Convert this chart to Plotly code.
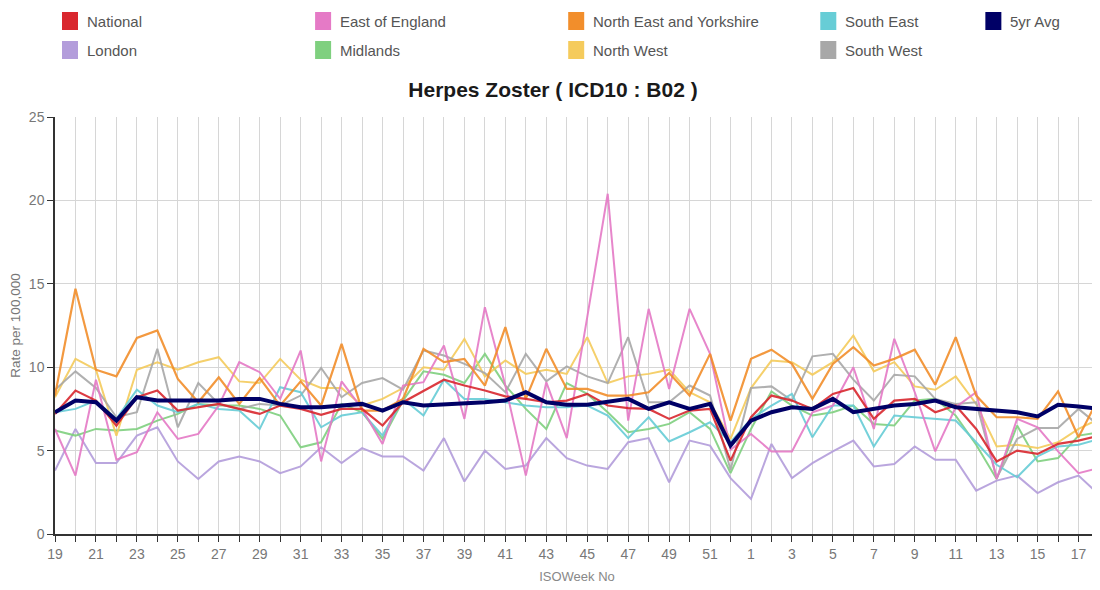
import plotly.graph_objects as go

weeks = list(range(19, 53)) + list(range(1, 19))
week_labels = [str(w) if i % 2 == 0 else "" for i, w in enumerate(weeks)]

national = [7.2, 8.6, 8.0, 6.5, 8.2, 8.6, 7.4, 7.6, 7.8, 7.5, 7.2, 7.7, 7.5, 7.15, 7.5, 7.5, 6.5, 7.9, 8.6, 9.25,
            8.9, 8.6, 8.25, 8.1, 7.9, 8.0, 8.4, 7.7, 7.55, 7.5, 6.9, 7.4, 7.5, 4.4, 7.0, 8.3, 8.0, 7.5, 8.4, 8.75,
            6.9, 8.0, 8.1, 7.3, 7.7, 6.3, 4.35, 5.0, 4.8, 5.4, 5.6, 5.9]
east_of_england = [6.3, 3.5, 9.25, 4.45, 4.9, 7.3, 5.7, 6.0, 7.7, 10.3, 9.7, 8.1, 11.0, 4.35, 9.15, 7.5, 5.4, 8.9, 9.1, 11.3,
                   6.9, 13.6, 8.9, 3.5, 9.1, 5.75, 13.0, 20.4, 6.8, 13.5, 8.7, 13.5, 10.8, 5.05, 6.0, 4.95, 4.95, 7.3, 7.7, 10.0,
                   6.3, 11.7, 8.5, 4.95, 7.6, 8.5, 3.3, 6.9, 6.4, 4.95, 3.65, 3.95]
north_east_yorks = [8.3, 14.7, 9.85, 9.45, 11.75, 12.2, 9.3, 7.9, 9.4, 7.8, 9.35, 7.7, 9.15, 7.7, 11.4, 7.4, 7.4, 8.1, 11.1, 10.3,
                    10.5, 8.9, 12.4, 8.1, 11.1, 8.7, 8.7, 8.3, 8.3, 8.5, 9.65, 8.3, 10.8, 6.8, 10.5, 11.05, 10.2, 8.1, 10.2, 11.2,
                    10.1, 10.5, 11.05, 8.95, 11.8, 8.3, 7.0, 7.0, 6.9, 8.55, 5.8, 8.2]
south_east = [7.3, 7.5, 8.0, 6.9, 8.65, 7.7, 7.3, 7.8, 7.5, 7.4, 6.3, 8.8, 8.5, 6.4, 7.1, 7.3, 5.9, 8.1, 7.1, 9.25,
              8.1, 8.1, 7.9, 7.7, 7.6, 7.6, 7.7, 7.1, 5.75, 7.0, 5.55, 6.1, 6.7, 5.5, 6.9, 7.7, 8.4, 5.8, 7.7, 7.7,
              5.25, 7.1, 7.0, 6.9, 6.8, 5.5, 4.15, 3.4, 4.65, 5.25, 5.35, 5.7]
five_yr_avg = [7.3, 8.0, 7.9, 6.8, 8.2, 8.0, 8.0, 8.0, 8.0, 8.1, 8.1, 7.8, 7.6, 7.6, 7.7, 7.8, 7.4, 7.9, 7.7, 7.75,
               7.8, 7.9, 8.0, 8.5, 7.9, 7.75, 7.75, 7.9, 8.1, 7.5, 7.9, 7.5, 7.8, 5.3, 6.8, 7.3, 7.6, 7.5, 8.1, 7.3,
               7.5, 7.7, 7.8, 8.0, 7.6, 7.5, 7.45, 7.3, 7.05, 7.75, 7.65, 7.5]
london = [3.8, 6.3, 4.25, 4.25, 5.9, 6.4, 4.35, 3.3, 4.35, 4.65, 4.35, 3.65, 4.05, 5.2, 4.25, 5.15, 4.65, 4.65, 3.8, 5.75,
          3.15, 5.0, 3.9, 4.1, 5.75, 4.55, 4.1, 3.9, 5.5, 5.75, 3.1, 5.6, 5.3, 3.35, 2.1, 5.4, 3.35, 4.25, 4.95, 5.6,
          4.05, 4.2, 5.25, 4.45, 4.45, 2.6, 3.2, 3.5, 2.45, 3.1, 3.5, 2.35]
midlands = [6.2, 5.9, 6.3, 6.2, 6.3, 6.8, 7.2, 7.8, 7.7, 7.7, 7.5, 7.1, 5.2, 5.5, 7.8, 7.3, 5.7, 8.0, 9.75, 9.55,
            9.05, 10.8, 8.9, 7.5, 6.3, 9.05, 8.4, 7.3, 6.1, 6.3, 6.6, 7.3, 6.3, 3.65, 6.3, 8.55, 7.7, 7.1, 7.3, 7.7,
            6.6, 6.5, 8.0, 8.1, 7.1, 5.35, 3.3, 6.5, 4.35, 4.55, 5.9, 6.1]
north_west = [8.2, 10.5, 9.85, 5.9, 9.85, 10.3, 9.85, 10.3, 10.6, 9.15, 9.05, 10.5, 9.25, 8.75, 8.75, 7.7, 8.1, 8.75, 10.0, 9.85,
              11.7, 9.45, 10.4, 9.6, 9.85, 9.6, 11.8, 9.05, 9.45, 9.6, 9.85, 8.5, 7.9, 5.7, 8.75, 10.4, 10.3, 9.55, 10.3, 11.9,
              9.75, 10.3, 8.85, 8.65, 9.45, 7.8, 5.25, 5.35, 5.15, 5.5, 6.3, 6.9]
south_west = [8.65, 9.75, 8.75, 7.0, 7.3, 11.1, 6.4, 9.05, 7.8, 7.5, 7.8, 7.7, 8.3, 9.95, 8.2, 9.05, 9.35, 8.65, 11.0, 10.7,
              10.2, 9.65, 8.5, 10.8, 9.15, 10.05, 9.45, 9.05, 11.8, 7.9, 7.9, 8.9, 8.3, 3.85, 8.75, 8.85, 8.0, 10.65, 10.8, 9.25,
              8.0, 9.55, 9.45, 8.1, 7.8, 7.9, 3.35, 5.7, 6.35, 6.35, 7.5, 6.5]

y_ticks = [0, 5, 10, 15, 20, 25]

# (name, values, colour, width) in drawing order; 5yr Avg drawn last (on top)
series = [
    ("London", london, "#b39ddb", 2),
    ("Midlands", midlands, "#7fd07f", 2),
    ("North West", north_west, "#f5cb5c", 2),
    ("South West", south_west, "#a8a8a8", 2),
    ("South East", south_east, "#67cdd6", 2),
    ("East of England", east_of_england, "#e57ac6", 2),
    ("North East and Yorkshire", north_east_yorks, "#f28e2b", 2.2),
    ("National", national, "#d9272e", 2.2),
    ("5yr Avg", five_yr_avg, "#000066", 4),
]

# page offset (browser body margin) compensation
OFF = 8
W, H = 1100 - OFF, 590 - OFF
# target plot area in screen pixels
PL, PR, PT, PB = 55, 1098.6, 117, 534
ML, MT = PL - OFF, PT - OFF
MR = W - (PR - OFF)
MB = H - (PB - OFF)
PW, PH = (PR - PL), (PB - PT)

def px(xs_screen):
    return (xs_screen - PL) / PW

def py(ys_screen):
    return (PB - ys_screen) / PH

fig = go.Figure()
xs = list(range(len(weeks)))
for name, vals, col, wd in series:
    fig.add_trace(go.Scatter(x=xs, y=vals, mode="lines", name=name,
                             line=dict(color=col, width=wd), opacity=0.9 if name != "5yr Avg" else 1,
                             showlegend=False))

# manual legend (2 rows x 5 columns, squares) in screen pixels
legend_items = [
    ("National", "#d9272e", 62, 21), ("London", "#b39ddb", 62, 50),
    ("East of England", "#e57ac6", 315, 21), ("Midlands", "#7fd07f", 315, 50),
    ("North East and Yorkshire", "#f28e2b", 568, 21), ("North West", "#f5cb5c", 568, 50),
    ("South East", "#67cdd6", 820, 21), ("South West", "#a8a8a8", 820, 50),
    ("5yr Avg", "#000066", 985, 21),
]
shapes = []
annotations = []
for name, col, x0, yc in legend_items:
    shapes.append(dict(type="rect", xref="paper", yref="paper",
                       x0=px(x0), x1=px(x0 + 16), y0=py(yc + 9), y1=py(yc - 9),
                       fillcolor=col, line=dict(width=0)))
    annotations.append(dict(text=name, xref="paper", yref="paper", x=px(x0 + 23), y=py(yc),
                            xanchor="left", yanchor="middle", showarrow=False,
                            font=dict(size=15, color="#555555", family="Liberation Sans, Arial")))

fig.update_layout(
    width=W, height=H,
    margin=dict(l=ML, r=MR, t=MT, b=MB, autoexpand=False),
    paper_bgcolor="white", plot_bgcolor="white",
    font=dict(family="Liberation Sans, Arial", color="#666666"),
    title=dict(text="<b>Herpes Zoster ( ICD10 : B02 )</b>", x=(553 - OFF) / W, xref="container", xanchor="center",
               y=1 - (90 - OFF) / H, yref="container", yanchor="middle",
               font=dict(size=21, color="#1a1a1a", family="Liberation Sans, Arial")),
    shapes=shapes, annotations=annotations,
    xaxis=dict(range=[0, len(weeks) - 1], tickmode="array", tickvals=xs, ticktext=week_labels,
               showgrid=True, gridcolor="#d6d6d6", gridwidth=1,
               showline=True, linecolor="#333333", linewidth=1.5,
               ticks="outside", ticklen=6, tickcolor="#333333",
               tickfont=dict(size=14, color="#777777"),
               title=dict(text="ISOWeek No", font=dict(size=13, color="#888888"), standoff=11),
               zeroline=False, automargin=False),
    yaxis=dict(range=[0, 25], tickmode="array", tickvals=y_ticks,
               showgrid=True, gridcolor="#d6d6d6", gridwidth=1,
               showline=True, linecolor="#333333", linewidth=1.5,
               ticks="outside", ticklen=6, tickcolor="#333333",
               tickfont=dict(size=14, color="#777777"),
               title=dict(text="Rate per 100,000", font=dict(size=13.5, color="#777777"), standoff=6),
               zeroline=False, automargin=False),
)

fig.write_html("out.html")
